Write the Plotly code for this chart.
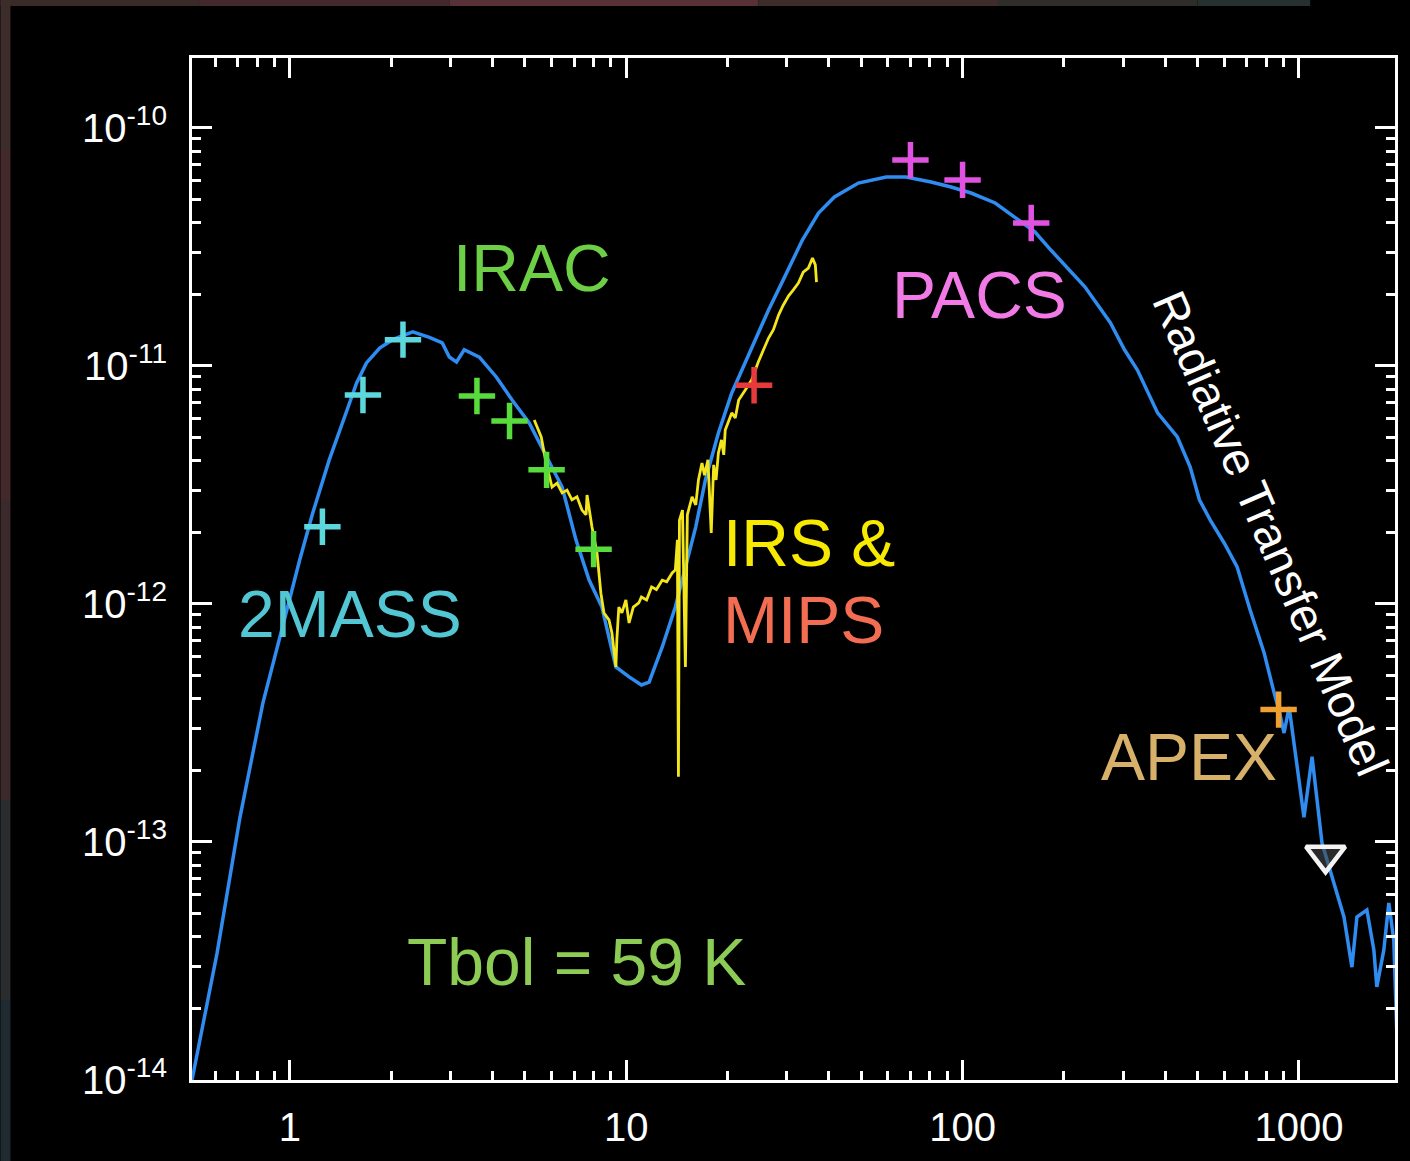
import plotly.graph_objects as go
import math

# ---- Spectral energy distribution (wavelength in micron, flux lambda*F_lambda) ----
model_wl = [0.512, 0.608, 0.711, 0.832, 0.915, 1.07, 1.17, 1.31, 1.48, 1.58, 1.69, 1.85,
            2.02, 2.32, 2.60, 2.84, 2.98, 3.13, 3.30, 3.66, 4.11, 4.58, 5.15, 5.78, 6.45,
            7.09, 7.76, 8.47, 9.32, 10.2, 11.1, 11.7, 12.8, 14.0, 15.0, 16.1, 17.2, 18.8,
            20.6, 23.1, 26.5, 29.3, 33.4, 37.3, 41.6, 49.0, 59.3, 67.9, 80.6, 92.4, 106,
            125, 147, 164, 183, 231, 275, 303, 331, 380, 435, 475, 506, 545, 600, 655, 716,
            788, 844, 879, 903, 935, 1035, 1094, 1171, 1271, 1361, 1437, 1487, 1592, 1670,
            1704, 1788, 1850, 1914, 1954]
model_flux = [1.00e-14, 3.42e-14, 1.27e-13, 3.84e-13, 6.47e-13, 1.53e-12, 2.41e-12, 4.03e-12,
              6.53e-12, 8.48e-12, 1.03e-11, 1.19e-11, 1.29e-11, 1.39e-11, 1.32e-11, 1.25e-11,
              1.09e-11, 1.04e-11, 1.17e-11, 1.09e-11, 8.99e-12, 7.20e-12, 5.76e-12, 4.23e-12,
              3.10e-12, 1.86e-12, 1.26e-12, 9.71e-13, 5.44e-13, 4.94e-13, 4.57e-13, 4.70e-13,
              6.60e-13, 9.71e-13, 1.43e-12, 2.11e-12, 3.32e-12, 5.23e-12, 7.70e-12, 1.11e-11,
              1.72e-11, 2.30e-11, 3.38e-11, 4.39e-11, 5.13e-11, 5.87e-11, 6.22e-11, 6.22e-11,
              5.93e-11, 5.65e-11, 5.33e-11, 4.84e-11, 4.11e-11, 3.66e-11, 3.07e-11, 2.15e-11,
              1.52e-11, 1.17e-11, 9.62e-12, 6.35e-12, 5.03e-12, 3.76e-12, 2.74e-12, 2.25e-12,
              1.80e-12, 1.43e-12, 9.44e-13, 6.22e-13, 4.23e-13, 3.42e-13, 2.87e-13, 3.69e-13,
              1.27e-13, 2.28e-13, 9.90e-14, 6.72e-14, 4.84e-14, 2.98e-14, 4.84e-14, 5.18e-14,
              3.52e-14, 2.46e-14, 3.52e-14, 5.54e-14, 3.87e-14, 1.58e-14]

# Spitzer IRS spectrum
irs_wl = [5.33, 5.59, 5.78, 6.02, 6.23, 6.45, 6.67, 6.90, 7.14, 7.39, 7.60, 7.65, 7.91, 8.19,
          8.41, 8.59, 8.89, 9.07, 9.32, 9.38, 9.51, 9.71, 9.98, 10.2, 10.5, 10.9, 11.1, 11.5,
          11.9, 12.3, 12.8, 13.2, 13.7, 14.0, 14.2, 14.3, 14.4, 14.7, 15.0, 15.2, 15.7, 16.1,
          16.4, 16.8, 17.1, 17.5, 17.9, 18.2, 18.5, 18.8, 19.2, 19.5, 19.7, 20.6, 21.1, 21.6,
          22.6, 23.6, 24.7, 25.6, 26.5, 27.4, 28.4, 29.3, 30.4, 31.4, 32.5, 33.6, 34.8, 35.8,
          36.5, 36.8]
irs_flux = [5.93e-12, 5.03e-12, 3.91e-12, 3.10e-12, 3.22e-12, 2.93e-12, 3.01e-12, 2.74e-12,
            2.82e-12, 2.48e-12, 2.37e-12, 2.87e-12, 2.11e-12, 1.64e-12, 1.11e-12, 9.17e-13,
            8.57e-13, 7.55e-13, 5.44e-13, 7.06e-13, 9.71e-13, 9.17e-13, 1.04e-12, 8.32e-13,
            9.71e-13, 1.01e-12, 1.07e-12, 1.04e-12, 1.18e-12, 1.15e-12, 1.26e-12, 1.24e-12,
            1.35e-12, 1.39e-12, 1.86e-12, 1.88e-13, 2.25e-12, 2.48e-12, 5.44e-13, 2.37e-12,
            2.82e-12, 2.61e-12, 3.32e-12, 3.91e-12, 3.48e-12, 4.03e-12, 1.99e-12, 3.84e-12,
            3.32e-12, 4.31e-12, 4.89e-12, 4.23e-12, 5.38e-12, 6.35e-12, 6.05e-12, 7.20e-12,
            7.93e-12, 8.73e-12, 1.04e-11, 1.17e-11, 1.31e-11, 1.42e-11, 1.64e-11, 1.80e-11,
            1.97e-11, 2.09e-11, 2.23e-11, 2.48e-11, 2.58e-11, 2.84e-11, 2.66e-11, 2.25e-11]

# Photometry
tmass_wl = [1.25, 1.65, 2.17]
tmass_flux = [2.11e-12, 7.55e-12, 1.29e-11]
irac_wl = [3.6, 4.5, 5.8, 8.0]
irac_flux = [7.48e-12, 5.87e-12, 3.66e-12, 1.70e-12]
mips_wl = [24.0]
mips_flux = [8.3e-12]
pacs_wl = [70, 100, 160]
pacs_flux = [7.33e-11, 6.05e-11, 3.99e-11]
apex_wl = [870]
apex_flux = [3.6e-13]
limit_wl = [1200]
limit_flux = [8.8e-14]

x_ticks = [1, 10, 100, 1000]
x_tick_text = ["1", "10", "100", "1000"]
y_ticks = [1e-14, 1e-13, 1e-12, 1e-11, 1e-10]
y_tick_text = ["10<sup>-14</sup>", "10<sup>-13</sup>", "10<sup>-12</sup>",
               "10<sup>-11</sup>", "10<sup>-10</sup>"]

# ---- Page geometry (pixels) ----
W, H = 1410, 1161
L, R, T, B = 192, 1398, 58, 1080


def px(x):
    return (x - L) / (R - L)


def py(y):
    return (B - y) / (B - T)


fig = go.Figure()

fig.add_trace(go.Scatter(x=model_wl, y=model_flux, mode="lines",
                         line=dict(color="#2f8cf0", width=3.5)))
fig.add_trace(go.Scatter(x=irs_wl, y=irs_flux, mode="lines",
                         line=dict(color="#f4e61c", width=2.8)))


def crosses(xs, ys, color):
    fig.add_trace(go.Scatter(x=xs, y=ys, mode="markers",
                             marker=dict(symbol="cross-thin", size=26,
                                         line=dict(color=color, width=5.5))))


crosses(tmass_wl, tmass_flux, "#5cd8dc")
crosses(irac_wl, irac_flux, "#58dc3c")
crosses(mips_wl, mips_flux, "#e83a3a")
crosses(pacs_wl, pacs_flux, "#e052e0")
crosses(apex_wl, apex_flux, "#f0a030")
fig.add_trace(go.Scatter(x=limit_wl, y=limit_flux, mode="markers",
                         marker=dict(symbol="triangle-down", size=34, color="rgba(70,70,70,0.6)",
                                     line=dict(color="#f4f4f4", width=4.5))))

# Labels
labels = [
    ("IRAC", 533, 268, "#6ccf45", "center"),
    ("PACS", 981, 295, "#f27ae6", "center"),
    ("2MASS", 350, 614, "#52c6d3", "center"),
    ("IRS &", 722, 543, "#f7ea00", "left"),
    ("MIPS", 722, 620, "#f26d52", "left"),
    ("APEX", 1191, 757, "#d7b06a", "center"),
    ("Tbol = 59 K", 577, 962, "#8ccc55", "center"),
]
annotations = []
for text, x, y, color, anchor in labels:
    annotations.append(dict(text=text, x=px(x), y=py(y), xref="paper", yref="paper",
                            xanchor=anchor, yanchor="middle", showarrow=False,
                            font=dict(family="Liberation Sans, Arial", size=66, color=color)))
annotations.append(dict(text="Radiative Transfer Model", x=px(1274), y=py(533),
                        xref="paper", yref="paper", xanchor="center", yanchor="middle",
                        showarrow=False, textangle=66.5,
                        font=dict(family="Liberation Sans, Arial", size=47, color="white")))

# Dark tinted border strips along the top and left edge of the page
shapes = []
top_strip = [(0, 200, "#3a2b29"), (200, 450, "#43292d"), (450, 760, "#583037"),
             (760, 1000, "#3d2c2a"), (1000, 1200, "#2f2d29"), (1200, 1313, "#273030")]
for x0, x1, c in top_strip:
    shapes.append(dict(type="rect", xref="paper", yref="paper", x0=px(x0), x1=px(x1),
                       y0=py(6), y1=py(0), fillcolor=c, line=dict(width=0), layer="below"))
left_strip = [(0, 150, "#3d2d2a"), (150, 500, "#432929"), (500, 800, "#3a2a2b"),
              (800, 1000, "#2a2c2e"), (1000, 1161, "#1f2b30")]
for y0, y1, c in left_strip:
    shapes.append(dict(type="rect", xref="paper", yref="paper", x0=px(0), x1=px(10),
                       y0=py(y1), y1=py(y0), fillcolor=c, line=dict(width=0), layer="below"))

axis_common = dict(
    type="log", showgrid=False, zeroline=False,
    showline=True, linecolor="white", linewidth=3, mirror="allticks",
    ticks="inside", ticklen=20, tickwidth=3, tickcolor="white",
    minor=dict(ticks="inside", ticklen=9, tickwidth=3, tickcolor="white",
               dtick="D1", showgrid=False),
    tickfont=dict(family="Liberation Sans, Arial", size=40, color="white"),
)

fig.update_layout(
    width=W, height=H,
    margin=dict(l=L, r=W - R, t=T, b=H - B),
    paper_bgcolor="black", plot_bgcolor="black",
    showlegend=False,
    xaxis=dict(axis_common, range=[math.log10(0.512), math.log10(1930)],
               tickvals=x_ticks, ticktext=x_tick_text, ticklabelstandoff=10),
    yaxis=dict(axis_common, range=[-14, -9.706],
               tickvals=y_ticks, ticktext=y_tick_text, ticklabelstandoff=14),
    annotations=annotations,
    shapes=shapes,
)

fig.write_html("out.html")
